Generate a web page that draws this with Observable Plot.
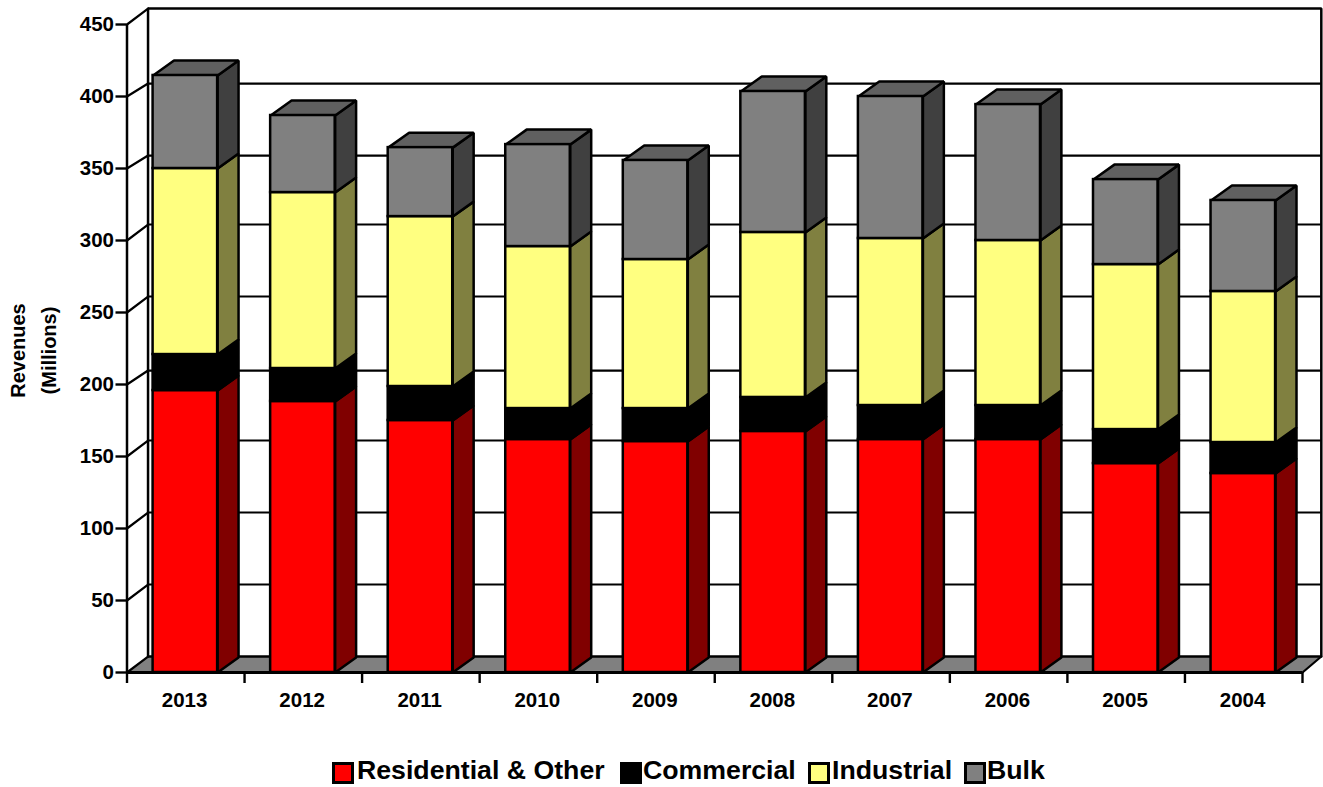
<!DOCTYPE html>
<html>
<head>
<meta charset="utf-8">
<script src="https://cdn.jsdelivr.net/npm/d3@7"></script>
<script src="https://cdn.jsdelivr.net/npm/@observablehq/plot@0.6"></script>
<style>
  html, body { margin: 0; padding: 0; background: #fff; overflow: hidden; }
  #legend { position: relative; width: 1323px; height: 37px; font: bold 26.7px "Liberation Sans", Arial, sans-serif; color: #000; }
  #legend i { position: absolute; top: 12px; width: 16px; height: 16px; border: 3px solid #000; box-sizing: content-box; }
  #legend span { position: absolute; top: 5px; line-height: 30px; white-space: nowrap; }
</style>
</head>
<body>
<div id="chart"></div>
<div id="legend"></div>
<script>
const years = ["2013","2012","2011","2010","2009","2008","2007","2006","2005","2004"];
const residential = [195.8,188.2,175,161.8,160.4,167.4,161.8,161.8,145.1,138.2];
const commercial  = [25,22.9,23.6,21.5,22.9,23.6,23.6,23.6,23.6,21.5];
const industrial  = [129.2,122.2,118,112.5,103.5,114.6,116,114.6,114.6,104.9];
const bulk        = [64.6,53.5,47.9,70.8,68.8,97.9,98.6,94.4,59,63.2];

const seriesNames  = ["Residential & Other","Commercial","Industrial","Bulk"];
const seriesValues = [residential, commercial, industrial, bulk];
const frontColors  = ["#ff0000","#000000","#ffff80","#808080"];
const sideColors   = ["#800000","#000000","#808040","#404040"];
const topColor = "#606060";
const floorColor = "#808080";

const yTicks = [450,400,350,300,250,200,150,100,50,0];
// Where each gridline sits on the back wall.
const gridTicks = [400,350,300,250,200,150,100,50];
const gridBack  = [409,359,311.1,261.1,209.7,161.1,111.1,61.1];

const barStart = 0.222, barEnd = 0.771;  // inside a category band
const depthX = 0.178, depthY = 10.4;     // oblique depth of a bar
const wallX = 0.179, wallY = 11.1, wallRight = 10.16;

const F = "'Liberation Sans', Arial, sans-serif";

const fronts = [], polys = [];
const poly = (id, fill, pts) => {
  for (const [x, y] of pts) polys.push({id, fill, x, y});
};
years.forEach((yr, i) => {
  let base = 0;
  const x0 = i + barStart, x1 = i + barEnd;
  seriesValues.forEach((vals, s) => {
    const top = base + vals[i];
    fronts.push({x1: x0, x2: x1, y1: base, y2: top, fill: frontColors[s]});
    poly(`side-${i}-${s}`, sideColors[s], [
      [x1, base], [x1 + depthX, base + depthY], [x1 + depthX, top + depthY], [x1, top], [x1, base]
    ]);
    base = top;
  });
  poly(`top-${i}`, topColor, [
    [x0, base], [x1, base], [x1 + depthX, base + depthY], [x0 + depthX, base + depthY], [x0, base]
  ]);
});

const floor = [
  {x: 0, y: 0}, {x: 10, y: 0}, {x: wallRight, y: wallY}, {x: wallX, y: wallY}, {x: 0, y: 0}
];
const wall = [
  {x: wallX, y: wallY}, {x: wallX, y: 450 + wallY}, {x: wallRight, y: 450 + wallY}, {x: wallRight, y: wallY}
];
const gridRows = gridBack.map((b, i) => ({b, t: gridTicks[i]}));
const diag = gridRows.flatMap(({b, t}) => [{z: t, x: 0, y: t}, {z: t, x: wallX, y: b}])
  .concat([{z: 450, x: 0, y: 450}, {z: 450, x: wallX, y: 450 + wallY}]);

const plot = Plot.plot({
  width: 1323, height: 750,
  marginLeft: 126.5, marginRight: 21, marginTop: 24, marginBottom: 78,
  style: {fontFamily: F, background: "#fff", color: "#000", overflow: "visible"},
  x: {domain: [0, 10]},
  y: {domain: [0, 450]},
  marks: [
    Plot.line(floor, {x: "x", y: "y", fill: floorColor, stroke: "none"}),
    Plot.ruleY(gridRows, {y: "b", x1: wallX, x2: wallRight, stroke: "#000", strokeWidth: 2.2}),
    Plot.line(wall, {x: "x", y: "y", stroke: "#000", strokeWidth: 2.5, strokeLinejoin: "miter"}),
    Plot.ruleY([wallY], {x1: wallX, x2: wallRight, stroke: "#000", strokeWidth: 2.4}),
    Plot.line(floor.slice(1, 3), {x: "x", y: "y", stroke: "#000", strokeWidth: 2.2}),
    Plot.line(diag, {x: "x", y: "y", z: "z", stroke: "#000", strokeWidth: 2.2}),
    Plot.line([{x: 0, y: 0}, {x: wallX, y: wallY}], {x: "x", y: "y", stroke: "#000", strokeWidth: 2.2}),
    Plot.line(polys, {x: "x", y: "y", z: "id", fill: "fill", stroke: "#000", strokeWidth: 2.5, strokeLinejoin: "miter"}),
    Plot.rect(fronts, {x1: "x1", x2: "x2", y1: "y1", y2: "y2", fill: "fill", stroke: "#000", strokeWidth: 2.5}),
    Plot.ruleX([0], {y1: 0, y2: 450, stroke: "#000", strokeWidth: 2.5}),
    Plot.ruleY([0], {x1: 0, x2: 10, stroke: "#000", strokeWidth: 2.8}),
    Plot.axisY({ticks: yTicks, tickSize: 11, tickPadding: 2, tickFormat: d => String(d), label: null,
      fontSize: 20.5, fontWeight: "bold", stroke: "#000", strokeWidth: 2.4}),
    Plot.axisX({ticks: d3.range(0, 11), tickSize: 11, tickFormat: () => "", label: null, stroke: "#000", strokeWidth: 2.4}),
    Plot.text(years, {
      x: (d, i) => i + 0.49, y: 0, text: d => d, dy: 28,
      fontSize: 20.5, fontWeight: "bold", fill: "#000"
    }),
    Plot.text(["Revenues\n(Millions)"], {
      x: -0.82, y: 223.6, text: d => d, rotate: -90, fontSize: 20, fontWeight: "bold", lineHeight: 1.55, fill: "#000"
    })
  ]
});
document.getElementById("chart").appendChild(plot);

const legendBoxLeft = [332, 620, 808, 964];
const legendTextLeft = [357, 643, 832, 987];
const legend = document.getElementById("legend");
seriesNames.forEach((name, i) => {
  const sw = document.createElement("i");
  sw.style.left = legendBoxLeft[i] + "px";
  sw.style.background = frontColors[i];
  legend.appendChild(sw);
  const t = document.createElement("span");
  t.style.left = legendTextLeft[i] + "px";
  t.textContent = name;
  legend.appendChild(t);
});
</script>
</body>
</html>
